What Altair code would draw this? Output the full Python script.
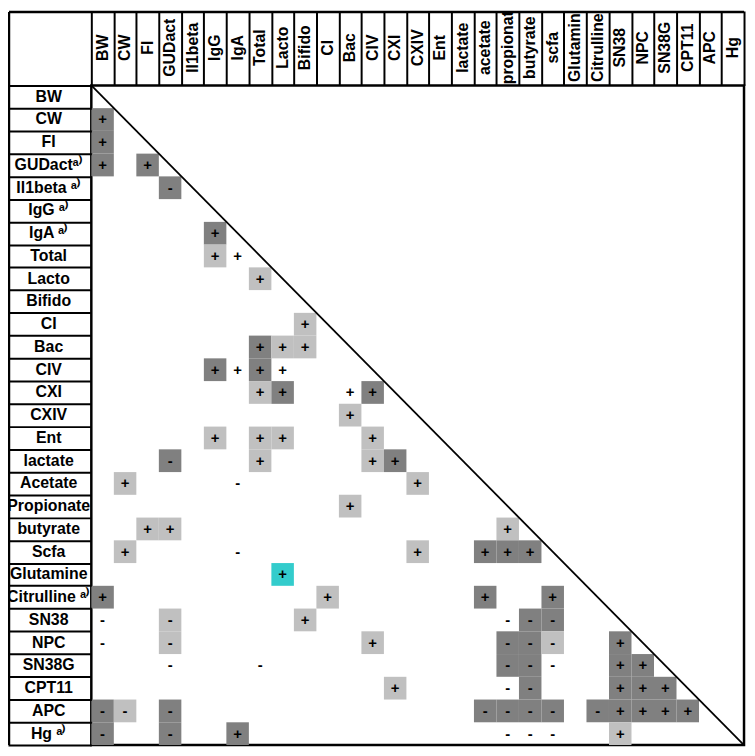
import altair as alt
import pandas as pd

# Column (header) variables and row variables of the correlation matrix
cols = ["BW", "CW", "FI", "GUDact", "Il1beta", "IgG", "IgA", "Total", "Lacto",
        "Bifido", "CI", "Bac", "CIV", "CXI", "CXIV", "Ent", "lactate", "acetate",
        "propionat", "butyrate", "scfa", "Glutamin", "Citrulline", "SN38", "NPC",
        "SN38G", "CPT11", "APC", "Hg"]
rows = ["BW", "CW", "FI", "GUDact", "Il1beta", "IgG", "IgA", "Total", "Lacto",
        "Bifido", "CI", "Bac", "CIV", "CXI", "CXIV", "Ent", "lactate", "Acetate",
        "Propionate", "butyrate", "Scfa", "Glutamine", "Citrulline", "SN38", "NPC",
        "SN38G", "CPT11", "APC", "Hg"]
# rows carrying the footnote mark "a)"
footnoted = ["GUDact", "Il1beta", "IgG", "IgA", "Citrulline", "Hg"]

# (row, column, shade, sign) ; shade "none" = sign without coloured cell
cells = [
    ("CW", "BW", "dark", "+"),
    ("FI", "BW", "dark", "+"),
    ("GUDact", "BW", "dark", "+"), ("GUDact", "FI", "dark", "+"),
    ("Il1beta", "GUDact", "dark", "-"),
    ("IgA", "IgG", "dark", "+"),
    ("Total", "IgG", "light", "+"), ("Total", "IgA", "none", "+"),
    ("Lacto", "Total", "light", "+"),
    ("CI", "Bifido", "light", "+"),
    ("Bac", "Total", "dark", "+"), ("Bac", "Lacto", "light", "+"), ("Bac", "Bifido", "light", "+"),
    ("CIV", "IgG", "dark", "+"), ("CIV", "IgA", "none", "+"), ("CIV", "Total", "dark", "+"),
    ("CIV", "Lacto", "none", "+"),
    ("CXI", "Total", "light", "+"), ("CXI", "Lacto", "dark", "+"), ("CXI", "Bac", "none", "+"),
    ("CXI", "CIV", "dark", "+"),
    ("CXIV", "Bac", "light", "+"),
    ("Ent", "IgG", "light", "+"), ("Ent", "Total", "light", "+"), ("Ent", "Lacto", "light", "+"),
    ("Ent", "CIV", "light", "+"),
    ("lactate", "GUDact", "dark", "-"), ("lactate", "Total", "light", "+"),
    ("lactate", "CIV", "light", "+"), ("lactate", "CXI", "dark", "+"),
    ("Acetate", "CW", "light", "+"), ("Acetate", "IgA", "none", "-"), ("Acetate", "CXIV", "light", "+"),
    ("Propionate", "Bac", "light", "+"),
    ("butyrate", "FI", "light", "+"), ("butyrate", "GUDact", "light", "+"),
    ("butyrate", "propionat", "light", "+"),
    ("Scfa", "CW", "light", "+"), ("Scfa", "IgA", "none", "-"), ("Scfa", "CXIV", "light", "+"),
    ("Scfa", "acetate", "dark", "+"), ("Scfa", "propionat", "dark", "+"), ("Scfa", "butyrate", "dark", "+"),
    ("Glutamine", "Lacto", "cyan", "+"),
    ("Citrulline", "BW", "dark", "+"), ("Citrulline", "CI", "light", "+"),
    ("Citrulline", "acetate", "dark", "+"), ("Citrulline", "scfa", "dark", "+"),
    ("SN38", "BW", "none", "-"), ("SN38", "GUDact", "light", "-"), ("SN38", "Bifido", "light", "+"),
    ("SN38", "propionat", "none", "-"), ("SN38", "butyrate", "dark", "-"), ("SN38", "scfa", "dark", "-"),
    ("NPC", "BW", "none", "-"), ("NPC", "GUDact", "light", "-"), ("NPC", "CIV", "light", "+"),
    ("NPC", "propionat", "dark", "-"), ("NPC", "butyrate", "dark", "-"), ("NPC", "scfa", "light", "-"),
    ("NPC", "SN38", "dark", "+"),
    ("SN38G", "GUDact", "none", "-"), ("SN38G", "Total", "none", "-"), ("SN38G", "propionat", "dark", "-"),
    ("SN38G", "butyrate", "dark", "-"), ("SN38G", "scfa", "none", "-"), ("SN38G", "SN38", "dark", "+"),
    ("SN38G", "NPC", "dark", "+"),
    ("CPT11", "CXI", "light", "+"), ("CPT11", "propionat", "none", "-"), ("CPT11", "butyrate", "dark", "-"),
    ("CPT11", "SN38", "dark", "+"), ("CPT11", "NPC", "dark", "+"), ("CPT11", "SN38G", "dark", "+"),
    ("APC", "BW", "dark", "-"), ("APC", "CW", "light", "-"), ("APC", "GUDact", "dark", "-"),
    ("APC", "acetate", "dark", "-"), ("APC", "propionat", "dark", "-"), ("APC", "butyrate", "dark", "-"),
    ("APC", "scfa", "dark", "-"), ("APC", "Citrulline", "dark", "-"), ("APC", "SN38", "dark", "+"),
    ("APC", "NPC", "dark", "+"), ("APC", "SN38G", "dark", "+"), ("APC", "CPT11", "dark", "+"),
    ("Hg", "BW", "dark", "-"), ("Hg", "GUDact", "dark", "-"), ("Hg", "IgA", "dark", "+"),
    ("Hg", "propionat", "none", "-"), ("Hg", "butyrate", "none", "-"), ("Hg", "scfa", "none", "-"),
    ("Hg", "SN38", "light", "+"),
]

shade_names = ["dark", "light", "cyan"]
shade_colors = ["#808080", "#c0c0c0", "#33cccc"]

W, H = 658, 665      # matrix area
LW, HH = 84, 75      # label column width, header height
FONT = "Liberation Sans"

df = pd.DataFrame(cells, columns=["row", "col", "shade", "sign"])
df_fill = df[df["shade"] != "none"]


def row_label(r):
    if r in footnoted:
        return r + ("ᵃ⁾" if r == "GUDact" else " ᵃ⁾")
    return r


df_rows = pd.DataFrame({"row": rows, "label": [row_label(r) for r in rows]})
df_cols = pd.DataFrame({"col": cols})

xscale = alt.Scale(domain=cols, paddingInner=0, paddingOuter=0)
yscale = alt.Scale(domain=rows, paddingInner=0, paddingOuter=0)

x_axis = alt.Axis(orient="top", labels=False, title=None, tickBand="extent", ticks=True,
                  tickSize=HH, tickWidth=2, tickColor="black", domain=False, grid=False)
y_axis = alt.Axis(orient="left", labels=False, title=None, tickBand="extent", ticks=True,
                  tickSize=LW, tickWidth=2, tickColor="black", domain=False, grid=False)

X = alt.X("col:N", scale=xscale, axis=x_axis)
Y = alt.Y("row:N", scale=yscale, axis=y_axis)

rects = alt.Chart(df_fill).mark_rect().encode(
    x=X, y=Y,
    color=alt.Color("shade:N", scale=alt.Scale(domain=shade_names, range=shade_colors), legend=None),
)

diag = alt.Chart(pd.DataFrame({"d": [0]})).mark_rule(color="black", strokeWidth=1.8).encode(
    x=alt.value(0), x2=alt.value(W), y=alt.value(0), y2=alt.value(H)
)

signs = alt.Chart(df).mark_text(font=FONT, fontWeight="bold", fontSize=15, color="black",
                                baseline="middle", align="center").encode(
    x=X, y=Y, text="sign:N",
)

row_text = alt.Chart(df_rows).mark_text(font=FONT, fontWeight="bold", fontSize=16, color="black",
                                        align="center", baseline="middle").encode(
    y=Y, x=alt.value(-43), text="label:N",
)

col_text = alt.Chart(df_cols).mark_text(font=FONT, fontWeight="bold", fontSize=16, color="black",
                                        align="center", baseline="middle", angle=270).encode(
    x=X, y=alt.value(-38), text="col:N",
)

frame_left = alt.Chart(pd.DataFrame({"d": [0]})).mark_rule(color="black", strokeWidth=2.5).encode(
    x=alt.value(-83), y=alt.value(-74), y2=alt.value(H)
)
frame_top = alt.Chart(pd.DataFrame({"d": [0]})).mark_rule(color="black", strokeWidth=2.5).encode(
    x=alt.value(-83), x2=alt.value(W), y=alt.value(-74)
)

chart = alt.layer(rects, diag, signs, row_text, col_text, frame_left, frame_top).properties(
    width=W, height=H,
    padding={"left": LW, "top": HH, "right": 3, "bottom": 4},
    autosize=alt.AutoSizeParams(type="none"),
    background="white",
).configure_view(stroke="black", strokeWidth=2.5)

chart.save("out.html", embed_options={"renderer": "svg", "actions": False})
